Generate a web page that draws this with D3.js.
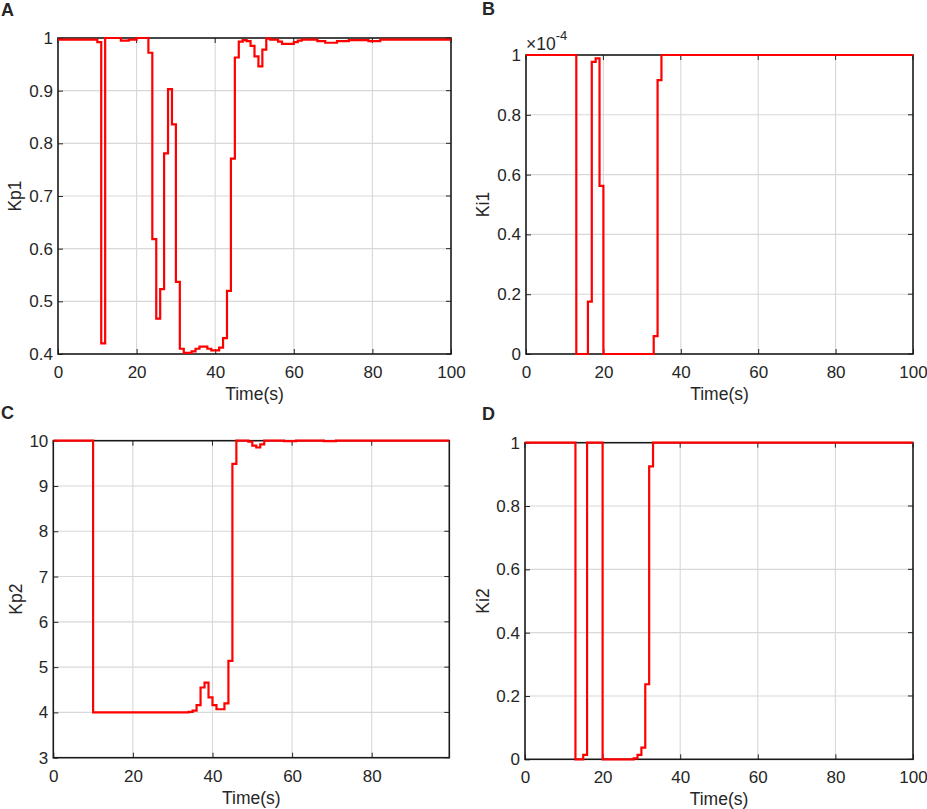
<!DOCTYPE html>
<html>
<head>
<meta charset="utf-8">
<script src="https://cdn.jsdelivr.net/npm/d3@7"></script>
<style>
  html, body { margin: 0; padding: 0; background: #fff; }
  svg { display: block; }
  text { font-family: "Liberation Sans", Arial, Helvetica, sans-serif; fill: #262626; }
</style>
</head>
<body>
<svg id="chart" width="927" height="809"></svg>
<script>
// ---------------- DATA ----------------
// sample times (s); each value holds from its time until the next sample
const times = [0,1,2,3,4,5,6,7,8,9,10,11,12,13,14,15,16,17,18,19,20,21,22,23,24,25,26,27,28,29,30,31,32,33,34,35,36,37,38,39,40,41,42,43,44,45,46,47,48,49,50,51,52,53,54,55,56,57,58,59,60,61,62,63,64,65,66,67,68,69,70,71,72,73,74,75,76,77,78,79,80,81,82,83,84,85,86,87,88,89,90,91,92,93,94,95,96,97,98,99];
const endTime = 100;

const kp1 = [0.997,0.997,0.997,0.997,0.997,0.997,0.997,0.997,0.997,0.997,
  0.992,0.42,1.0,1.0,1.0,1.0,0.995,0.995,0.997,0.997,
  1.0,1.0,1.0,0.972,0.618,0.467,0.523,0.781,0.903,0.836,
  0.537,0.41,0.402,0.402,0.405,0.41,0.414,0.414,0.41,0.407,
  0.407,0.412,0.43,0.52,0.771,0.963,0.993,0.996,0.994,0.985,
  0.965,0.946,0.978,0.999,0.997,0.997,0.993,0.989,0.989,0.989,
  0.992,0.995,0.997,0.997,0.997,0.997,0.994,0.994,0.991,0.991,
  0.991,0.994,0.994,0.994,0.996,0.996,0.996,0.996,0.996,0.994,
  0.994,0.994,0.997,0.997,0.997,0.997,0.997,0.997,0.997,0.997,
  0.997,0.997,0.997,0.997,0.997,0.997,0.997,0.997,0.997,0.997];

// Ki1 in units of 1e-4
const ki1 = [1,1,1,1,1,1,1,1,1,1,
  1,1,1,0,0,0,0.175,0.977,0.989,0.562,
  0,0,0,0,0,0,0,0,0,0,
  0,0,0,0.06,0.916,1,1,1,1,1,
  1,1,1,1,1,1,1,1,1,1,
  1,1,1,1,1,1,1,1,1,1,
  1,1,1,1,1,1,1,1,1,1,
  1,1,1,1,1,1,1,1,1,1,
  1,1,1,1,1,1,1,1,1,1,
  1,1,1,1,1,1,1,1,1,1];

const kp2 = [10,10,10,10,10,10,10,10,10,10,
  4.0,4.0,4.0,4.0,4.0,4.0,4.0,4.0,4.0,4.0,
  4.0,4.0,4.0,4.0,4.0,4.0,4.0,4.0,4.0,4.0,
  4.0,4.0,4.0,4.0,4.01,4.04,4.16,4.55,4.66,4.33,
  4.16,4.07,4.07,4.2,5.14,9.49,10,10,10,9.98,
  9.89,9.85,9.92,10,10,10,10,10,9.99,9.99,
  9.99,10,10,10,10,10,10,10,9.99,9.99,
  9.99,10,10,10,10,10,10,10,10,10,
  10,10,10,10,10,10,10,10,10,10,
  10,10,10,10,10,10,10,10,10,10];

const ki2 = [1,1,1,1,1,1,1,1,1,1,
  1,1,1,0,0,0.014,1,1,1,1,
  0,0,0,0,0,0,0,0,0.003,0.014,
  0.037,0.237,0.925,1,1,1,1,1,1,1,
  1,1,1,1,1,1,1,1,1,1,
  1,1,1,1,1,1,1,1,1,1,
  1,1,1,1,1,1,1,1,1,1,
  1,1,1,1,1,1,1,1,1,1,
  1,1,1,1,1,1,1,1,1,1,
  1,1,1,1,1,1,1,1,1,1];

// tick values and labels
const xTicks100 = [0,20,40,60,80,100];
const xTickLabels100 = ["0","20","40","60","80","100"];
const xTicksC = [0,20,40,60,80];
const xTickLabelsC = ["0","20","40","60","80"];
const yTicksKp1 = [0.4,0.5,0.6,0.7,0.8,0.9,1];
const yTickLabelsKp1 = ["0.4","0.5","0.6","0.7","0.8","0.9","1"];
const yTicksUnit = [0,0.2,0.4,0.6,0.8,1];
const yTickLabelsUnit = ["0","0.2","0.4","0.6","0.8","1"];
const yTicksKp2 = [3,4,5,6,7,8,9,10];
const yTickLabelsKp2 = ["3","4","5","6","7","8","9","10"];

// ---------------- LAYOUT ----------------
const panels = [
  { letter:"A", values:kp1, xDomain:[0,100], yDomain:[0.4,1],
    xTicks:xTicks100, xLabels:xTickLabels100, yTicks:yTicksKp1, yLabels:yTickLabelsKp1,
    box:{l:58, r:451, t:38, b:354}, ylabel:"Kp1", ylabelX:21, letterPos:[1,16] },
  { letter:"B", values:ki1, xDomain:[0,100], yDomain:[0,1],
    xTicks:xTicks100, xLabels:xTickLabels100, yTicks:yTicksUnit, yLabels:yTickLabelsUnit,
    box:{l:526, r:913, t:55, b:354}, ylabel:"Ki1", ylabelX:489, letterPos:[482,15], exponent:"-4" },
  { letter:"C", values:kp2, xDomain:[0,99.5], yDomain:[3,10],
    xTicks:xTicksC, xLabels:xTickLabelsC, yTicks:yTicksKp2, yLabels:yTickLabelsKp2,
    box:{l:53.3, r:449.3, t:440.7, b:757.7}, ylabel:"Kp2", ylabelX:22, letterPos:[1,419] },
  { letter:"D", values:ki2, xDomain:[0,100], yDomain:[0,1],
    xTicks:xTicks100, xLabels:xTickLabels100, yTicks:yTicksUnit, yLabels:yTickLabelsUnit,
    box:{l:525, r:913, t:442.7, b:759.3}, ylabel:"Ki2", ylabelX:489, letterPos:[482,420] }
];

const svg = d3.select("#chart");
const tickLen = 5;
const axisColor = "#262626";
const tickFont = 17;
const labelFont = 17.5;

panels.forEach((p, idx) => {
  const {l, r, t, b} = p.box;
  const x = d3.scaleLinear().domain(p.xDomain).range([l, r]);
  const y = d3.scaleLinear().domain(p.yDomain).range([b, t]);
  const g = svg.append("g");

  // grid
  g.append("g").selectAll("line").data(p.xTicks.filter(v => v > p.xDomain[0] && v < p.xDomain[1]))
    .join("line").attr("x1", d => x(d)).attr("x2", d => x(d)).attr("y1", t).attr("y2", b)
    .attr("stroke", "#d8d8d8").attr("stroke-width", 1.1);
  g.append("g").selectAll("line").data(p.yTicks.filter(v => v > p.yDomain[0] && v < p.yDomain[1]))
    .join("line").attr("y1", d => y(d)).attr("y2", d => y(d)).attr("x1", l).attr("x2", r)
    .attr("stroke", "#d8d8d8").attr("stroke-width", 1.1);

  // bottom and left axes (inner ticks)
  const xAxis = d3.axisBottom(x).tickValues(p.xTicks).tickSize(-tickLen).tickPadding(12)
    .tickFormat((d, i) => p.xLabels[i]);
  const gx = g.append("g").attr("transform", `translate(0,${b})`).call(xAxis);
  gx.select(".domain").remove();
  gx.selectAll(".tick line").attr("stroke", axisColor);
  gx.selectAll(".tick text").attr("font-size", tickFont).attr("fill", axisColor)
    .attr("font-family", '"Liberation Sans", Arial, sans-serif');

  const yAxis = d3.axisLeft(y).tickValues(p.yTicks).tickSize(-tickLen).tickPadding(5)
    .tickFormat((d, i) => p.yLabels[i]);
  const gy = g.append("g").attr("transform", `translate(${l},0)`).call(yAxis);
  gy.select(".domain").remove();
  gy.selectAll(".tick line").attr("stroke", axisColor);
  gy.selectAll(".tick text").attr("font-size", tickFont).attr("fill", axisColor)
    .attr("font-family", '"Liberation Sans", Arial, sans-serif');

  // top and right inner ticks (box style)
  g.append("g").selectAll("line").data(p.xTicks).join("line")
    .attr("x1", d => x(d)).attr("x2", d => x(d)).attr("y1", t).attr("y2", t + tickLen)
    .attr("stroke", axisColor);
  g.append("g").selectAll("line").data(p.yTicks).join("line")
    .attr("y1", d => y(d)).attr("y2", d => y(d)).attr("x1", r).attr("x2", r - tickLen)
    .attr("stroke", axisColor);

  // box
  g.append("rect").attr("x", l).attr("y", t).attr("width", r - l).attr("height", b - t)
    .attr("fill", "none").attr("stroke", "#1a1a1a").attr("stroke-width", 1.6);

  // data line
  const pts = p.values.map((v, i) => [times[i], v]);
  pts.push([endTime, p.values[p.values.length - 1]]);
  const clipId = "clip" + idx;
  svg.append("clipPath").attr("id", clipId).append("rect")
    .attr("x", l).attr("y", t - 3).attr("width", r - l).attr("height", b - t + 6);
  const line = d3.line().x(d => x(d[0])).y(d => y(d[1])).curve(d3.curveStepAfter);
  g.append("path").datum(pts).attr("d", line).attr("clip-path", `url(#${clipId})`)
    .attr("fill", "none").attr("stroke", "#ff0000").attr("stroke-width", 2.2)
    .attr("stroke-linejoin", "miter");

  // axis labels
  g.append("text").attr("x", (l + r) / 2).attr("y", b + 46).attr("text-anchor", "middle")
    .attr("font-size", labelFont).text("Time(s)");
  g.append("text").attr("transform", `translate(${p.ylabelX},${(t + b) / 2}) rotate(-90)`)
    .attr("text-anchor", "middle").attr("font-size", labelFont).text(p.ylabel);

  // panel letter
  g.append("text").attr("x", p.letterPos[0]).attr("y", p.letterPos[1])
    .attr("font-size", 18).attr("font-weight", "bold").attr("fill", "#000").text(p.letter);

  // exponent label
  if (p.exponent) {
    const base = g.append("text").attr("x", l).attr("y", t - 5)
      .attr("font-size", 17.5).text("\u00d710");
    const w = base.node().getComputedTextLength();
    g.append("text").attr("x", l + w).attr("y", t - 15)
      .attr("font-size", 13).text(p.exponent);
  }
});
</script>
</body>
</html>
